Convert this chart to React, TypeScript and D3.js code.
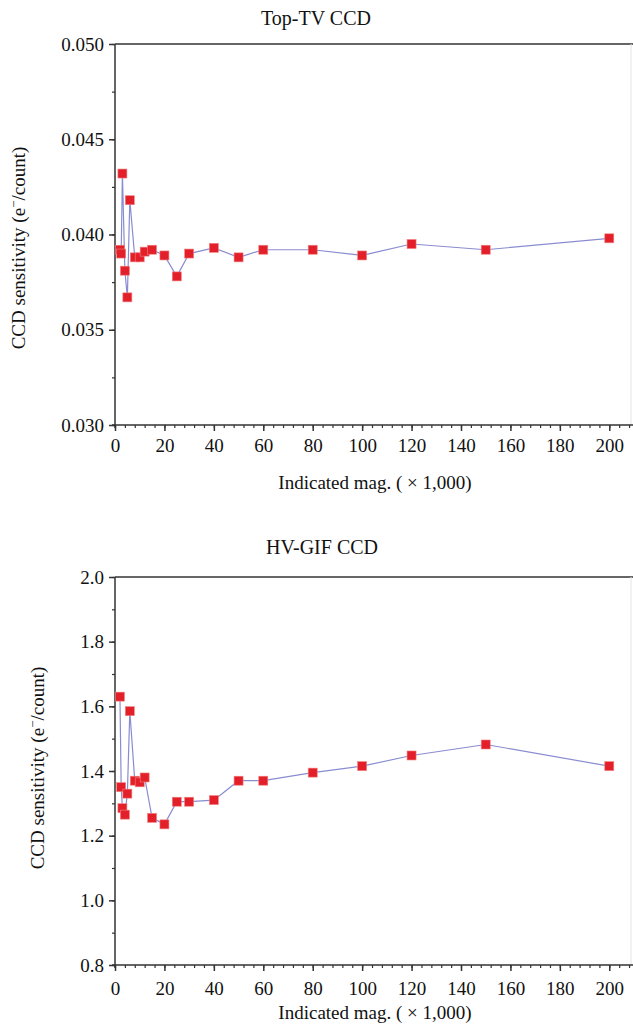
import React, { useEffect, useRef } from 'react';
import * as d3 from 'd3';

// indicated magnification (x 1,000), same set for both detectors
const magnifications = [2, 2.5, 3, 4, 5, 6, 8, 10, 12, 15, 20, 25, 30, 40, 50, 60, 80, 100, 120, 150, 200];
const topTvSensitivity = [0.0392, 0.0390, 0.0432, 0.0381, 0.0367, 0.0418, 0.0388, 0.0388, 0.0391, 0.0392, 0.0389, 0.0378, 0.0390, 0.0393, 0.0388, 0.0392, 0.0392, 0.0389, 0.0395, 0.0392, 0.0398];
const hvGifSensitivity = [1.63, 1.35, 1.285, 1.265, 1.33, 1.585, 1.37, 1.365, 1.38, 1.255, 1.235, 1.305, 1.305, 1.31, 1.37, 1.37, 1.395, 1.415, 1.448, 1.482, 1.415];

const xTicks = [0, 20, 40, 60, 80, 100, 120, 140, 160, 180, 200];
const topTvTicks = [0.030, 0.035, 0.040, 0.045, 0.050];
const hvGifTicks = [0.8, 1.0, 1.2, 1.4, 1.6, 1.8, 2.0];

const W = 633;
const H = 1027;
const FONT = "'Liberation Serif', 'Times New Roman', serif";

const drawPanel = (svg, p) => {
    const x = d3.scaleLinear().domain([0, 210]).range([115, 634]);
    const y = d3.scaleLinear().domain(p.domain).range([p.bottom, p.top]);

    const g = svg.append('g').attr('font-family', FONT);

    // frame: top line and faint right edge
    g.append('line')
        .attr('x1', 115).attr('x2', W).attr('y1', p.top).attr('y2', p.top)
        .attr('stroke', '#333').attr('stroke-width', 1.5);
    g.append('line')
        .attr('x1', 631).attr('x2', 631).attr('y1', p.top).attr('y2', p.bottom)
        .attr('stroke', '#e4e4e4').attr('stroke-width', 1);

    // minor ticks
    const xMinor = d3.range(0, 209, 4);
    g.append('g')
        .attr('transform', `translate(0,${p.bottom})`)
        .call(d3.axisBottom(x).tickValues(xMinor).tickSize(3).tickFormat(() => ''))
        .call(a => a.select('.domain').remove())
        .call(a => a.selectAll('line').attr('stroke', '#333').attr('stroke-width', 1.2));
    const yMinor = d3.range(p.domain[0], p.domain[1] + p.minor / 2, p.minor);
    g.append('g')
        .attr('transform', 'translate(115,0)')
        .call(d3.axisLeft(y).tickValues(yMinor).tickSize(3).tickFormat(() => ''))
        .call(a => a.select('.domain').remove())
        .call(a => a.selectAll('line').attr('stroke', '#333').attr('stroke-width', 1.2));

    // major axes
    g.append('g')
        .attr('transform', `translate(0,${p.bottom})`)
        .call(d3.axisBottom(x).tickValues(xTicks).tickSize(6).tickSizeOuter(0).tickPadding(p.xPad).tickFormat(d3.format('d')))
        .call(a => a.select('.domain').attr('stroke', '#333').attr('stroke-width', 1.5).attr('d', `M112,0H${W}`))
        .call(a => a.selectAll('line').attr('stroke', '#333').attr('stroke-width', 1.5))
        .call(a => a.selectAll('text').attr('font-family', FONT).attr('font-size', 19).attr('fill', '#111'));
    g.append('g')
        .attr('transform', 'translate(115,0)')
        .call(d3.axisLeft(y).tickValues(p.ticks).tickSize(6).tickSizeOuter(0).tickPadding(5).tickFormat(d3.format(p.format)))
        .call(a => a.select('.domain').attr('stroke', '#333').attr('stroke-width', 1.5).attr('d', `M0,${p.top}V${p.bottom + 3}`))
        .call(a => a.selectAll('line').attr('stroke', '#333').attr('stroke-width', 1.5))
        .call(a => a.selectAll('text').attr('font-family', FONT).attr('font-size', 19).attr('fill', '#111'));

    // data
    const line = d3.line().x(d => x(d[0])).y(d => y(d[1]));
    const pts = magnifications.map((m, i) => [m, p.values[i]]);
    g.append('path')
        .attr('d', line(pts))
        .attr('fill', 'none')
        .attr('stroke', '#8a8cd0')
        .attr('stroke-width', 1.2);
    g.append('g')
        .selectAll('rect')
        .data(pts)
        .join('rect')
        .attr('x', d => x(d[0]) - 4.5)
        .attr('y', d => y(d[1]) - 4.5)
        .attr('width', 9)
        .attr('height', 9)
        .attr('fill', '#e3202a')
        .attr('stroke', '#f08080')
        .attr('stroke-width', 0.6);

    // texts
    g.append('text')
        .attr('x', p.titleX).attr('y', p.titleY)
        .attr('text-anchor', 'middle').attr('font-size', 20).attr('fill', '#111')
        .text(p.title);
    g.append('text')
        .attr('x', 375).attr('y', p.xLabelY)
        .attr('text-anchor', 'middle').attr('font-size', 19).attr('fill', '#111')
        .text('Indicated mag. ( × 1,000)');
    const yl = g.append('text')
        .attr('transform', `translate(${p.yLabelX},${p.yLabelY}) rotate(-90)`)
        .attr('text-anchor', 'middle').attr('font-size', 19).attr('fill', '#111');
    yl.append('tspan').text('CCD sensitivity (e');
    yl.append('tspan').attr('dy', -7).attr('font-size', 13).text('−');
    yl.append('tspan').attr('dy', 7).text('/count)');
};

const App = () => {
    const ref = useRef(null);

    useEffect(() => {
        const svg = d3.select(ref.current);
        svg.selectAll('*').remove();

        drawPanel(svg, {
            title: 'Top-TV CCD', titleX: 316, titleY: 25,
            top: 44, bottom: 425, domain: [0.030, 0.050], ticks: topTvTicks,
            minor: 0.0025, format: '.3f', values: topTvSensitivity,
            yLabelX: 25, yLabelY: 248, xPad: 8, xLabelY: 489
        });
        drawPanel(svg, {
            title: 'HV-GIF CCD', titleX: 322, titleY: 554,
            top: 577, bottom: 965, domain: [0.8, 2.0], ticks: hvGifTicks,
            minor: 0.1, format: '.1f', values: hvGifSensitivity,
            yLabelX: 44, yLabelY: 768, xPad: 11, xLabelY: 1019
        });
    }, []);

    return (
        <svg ref={ref} width={W} height={H}
            style={{ position: 'absolute', left: 0, top: 0, background: '#fff' }} />
    );
};

export default App;
